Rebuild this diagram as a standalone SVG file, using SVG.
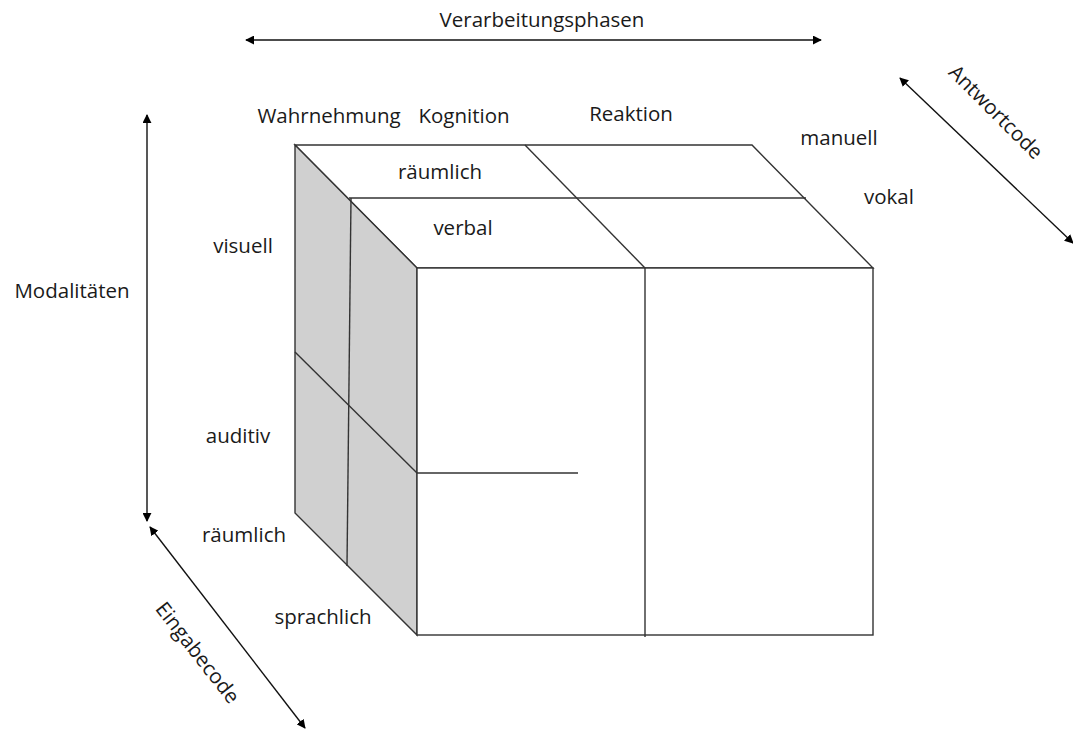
<svg xmlns="http://www.w3.org/2000/svg" width="1073" height="731" viewBox="0 0 1073 731">
  <defs>
    <marker id="ah" viewBox="0 0 10 10" refX="9" refY="5" markerWidth="9" markerHeight="9" markerUnits="userSpaceOnUse" orient="auto-start-reverse">
      <path d="M0,0 L10,5 L0,10 z" fill="#000"/>
    </marker>
    <style>
      .lbl { font-family: "Open Sans", "Liberation Sans", sans-serif; font-size: 20.5px; fill: #1a1a1a; }
      .edge { fill: none; stroke: #333; stroke-width: 1.4; }
      .face { fill: #fff; stroke: #333; stroke-width: 1.4; }
      .side { fill: #d0d0d0; stroke: #333; stroke-width: 1.4; }
      .axis { fill: none; stroke: #111; stroke-width: 1.4; marker-start: url(#ah); marker-end: url(#ah); }
    </style>
  </defs>

  <rect width="1073" height="731" fill="#fff"/>

  <!-- cube -->
  <g id="cube">
    <polygon id="top-face" class="face" points="295,145 752,145 873,268 417,268"/>
    <polygon id="side-face" class="side" points="295,145 417,268 417,635 295,513"/>
    <rect id="front-face" class="face" x="417" y="268" width="456" height="367"/>
    <!-- subdivisions -->
    <line class="edge" x1="349" y1="198" x2="806" y2="198"/>
    <line class="edge" x1="525" y1="145" x2="645" y2="268"/>
    <line class="edge" x1="645" y1="268" x2="645" y2="637"/>
    <line class="edge" x1="351" y1="198" x2="347" y2="566"/>
    <line class="edge" x1="295" y1="352" x2="417" y2="473"/>
    <line class="edge" x1="417" y1="473" x2="578" y2="473"/>
  </g>

  <!-- axes -->
  <g id="connectors">
    <line class="axis" x1="246" y1="40" x2="821" y2="40"/>
    <line class="axis" x1="147" y1="115" x2="147" y2="521"/>
    <line class="axis" x1="150" y1="527" x2="305" y2="728"/>
    <line class="axis" x1="900" y1="78" x2="1073" y2="243"/>
  </g>

  <!-- axis captions -->
  <g id="axis-labels">
    <text class="lbl" x="542" y="27" text-anchor="middle">Verarbeitungsphasen</text>
    <text class="lbl" x="72" y="298" text-anchor="middle">Modalitäten</text>
    <text class="lbl" transform="translate(991,117) rotate(45)" text-anchor="middle">Antwortcode</text>
    <text class="lbl" transform="translate(192,657) rotate(52)" text-anchor="middle">Eingabecode</text>
  </g>

  <!-- category labels -->
  <g id="phase-labels">
    <text class="lbl" x="329" y="123" text-anchor="middle">Wahrnehmung</text>
    <text class="lbl" x="464" y="123" text-anchor="middle">Kognition</text>
    <text class="lbl" x="631" y="121" text-anchor="middle">Reaktion</text>
  </g>
  <g id="response-labels">
    <text class="lbl" x="839" y="145" text-anchor="middle">manuell</text>
    <text class="lbl" x="889" y="204" text-anchor="middle">vokal</text>
  </g>
  <g id="code-labels">
    <text class="lbl" x="440" y="179" text-anchor="middle">räumlich</text>
    <text class="lbl" x="463" y="235" text-anchor="middle">verbal</text>
  </g>
  <g id="modality-labels">
    <text class="lbl" x="243" y="253" text-anchor="middle">visuell</text>
    <text class="lbl" x="238" y="443" text-anchor="middle">auditiv</text>
  </g>
  <g id="input-labels">
    <text class="lbl" x="244" y="542" text-anchor="middle">räumlich</text>
    <text class="lbl" x="323" y="624" text-anchor="middle">sprachlich</text>
  </g>
</svg>
